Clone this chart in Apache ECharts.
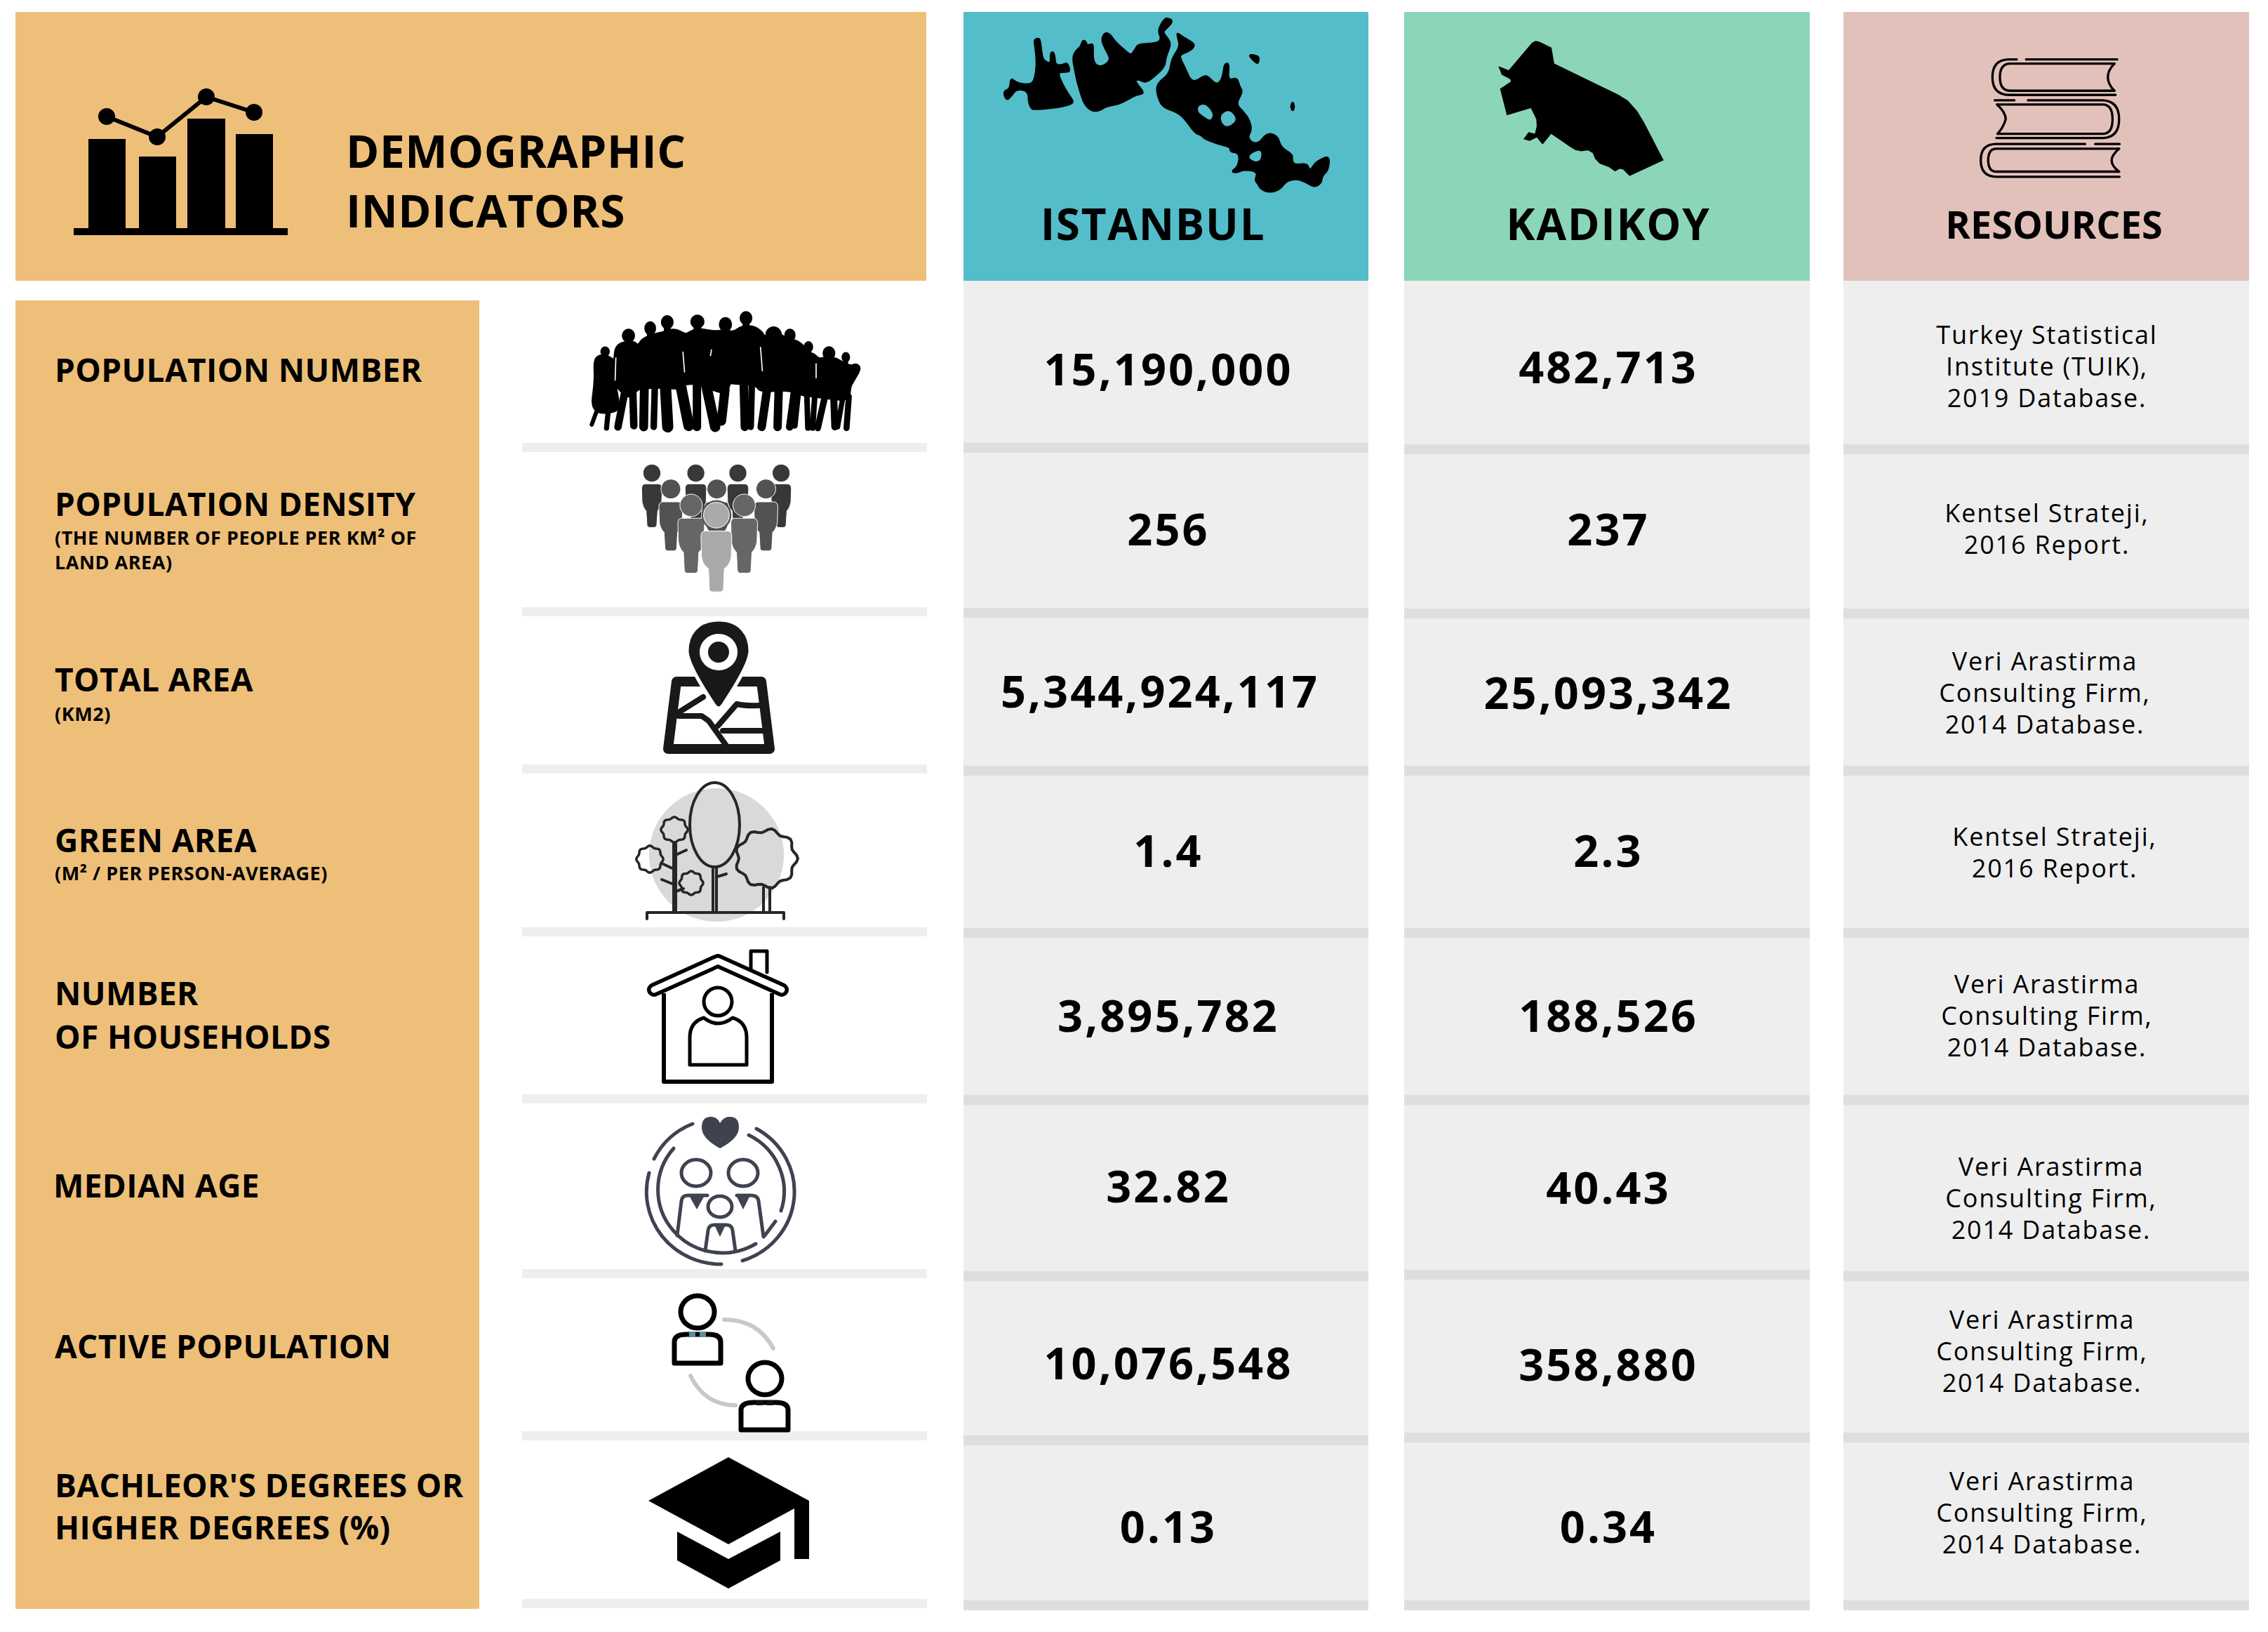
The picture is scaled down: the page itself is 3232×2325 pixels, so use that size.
<!DOCTYPE html>
<html>
<head>
<meta charset="utf-8">
<title>Demographic indicators</title>
<script src="https://cdn.jsdelivr.net/npm/echarts@6/dist/echarts.min.js"></script>
<style>
  html, body { margin: 0; background: #fff; }
  #chart { width: 3232px; height: 2325px; }
  /* the source is tracked differently per text size */
  text { letter-spacing: 0.03em; }
  text[style*="64px"] { letter-spacing: 0.009em; }
  text[style*="63px"] { letter-spacing: 0.049em; }
  text[style*="62px"] { letter-spacing: 0.027em; }
  text[style*="54px"] { letter-spacing: 0; }
  text[style*="46px"] { letter-spacing: 0.008em; }
  text[style*="36px"] { letter-spacing: 0.05em; }
  text[style*="27px"] { letter-spacing: 0.02em; }
</style>
</head>
<body>
<div id="chart"></div>
<script>
// table content
const headerTitle = ['DEMOGRAPHIC', 'INDICATORS'];
const columnTitles = ['ISTANBUL', 'KADIKOY', 'RESOURCES'];
const indicatorNames = [
    ['POPULATION NUMBER'],
    ['POPULATION DENSITY'],
    ['TOTAL AREA'],
    ['GREEN AREA'],
    ['NUMBER', 'OF HOUSEHOLDS'],
    ['MEDIAN AGE'],
    ['ACTIVE POPULATION'],
    ["BACHLEOR'S DEGREES OR", 'HIGHER DEGREES (%)']
];
const indicatorNotes = [
    [],
    ['(THE NUMBER OF PEOPLE PER KM² OF', 'LAND AREA)'],
    ['(KM2)'],
    ['(M² / PER PERSON-AVERAGE)'],
    [], [], [], []
];
const istanbulValues = [15190000, 256, 5344924117, 1.4, 3895782, 32.82, 10076548, 0.13];
const kadikoyValues = [482713, 237, 25093342, 2.3, 188526, 40.43, 358880, 0.34];
const resources = [
    ['Turkey Statistical', 'Institute (TUIK),', '2019 Database.'],
    ['Kentsel Strateji,', '2016 Report.'],
    ['Veri Arastirma', 'Consulting Firm,', '2014 Database.'],
    ['Kentsel Strateji,', '2016 Report.'],
    ['Veri Arastirma', 'Consulting Firm,', '2014 Database.'],
    ['Veri Arastirma', 'Consulting Firm,', '2014 Database.'],
    ['Veri Arastirma', 'Consulting Firm,', '2014 Database.'],
    ['Veri Arastirma', 'Consulting Firm,', '2014 Database.']
];

// layout, in page pixels
const WIDTH = 3232;
const HEIGHT = 2325;
const COLS = { istanbul: [1373, 1950], kadikoy: [2001, 2579], resources: [2627, 3205] };
const ICON_COL = [744, 1321];
const HEAD_BOTTOM = 400;
const istanbulRules = [631, 866, 1091, 1322, 1560, 1811, 2045, 2280];
const kadikoyRules = [633, 867, 1091, 1322, 1560, 1809, 2041, 2280];
const resourcesRules = [633, 867, 1091, 1322, 1560, 1811, 2041, 2280];
const iconRules = [631, 865, 1089, 1321, 1559, 1808, 2039, 2278];
const nameY = [[526], [717], [967], [1196], [1414, 1476], [1688], [1917], [2115, 2175]];
const noteY = [[], [765, 800], [1016], [1243], [], [], [], []];
const nameX = [78, 78, 78, 78, 78, 76, 78, 78];
const istanbulX = [1665, 1665, 1653, 1665, 1665, 1665, 1665, 1665];
const kadikoyX = 2292;
const istanbulY = [524, 752, 983, 1210, 1445, 1688, 1940, 2173];
const kadikoyY = [521, 752, 985, 1210, 1445, 1690, 1942, 2173];
const resourceX = [2917, 2917, 2914, 2928, 2917, 2923, 2910, 2910];
const resourceY = [476, 730, 941, 1191, 1401, 1661, 1879, 2109];

const FONT = '"Open Sans", sans-serif';
const fmt = v => v.toLocaleString('en-US', { maximumFractionDigits: 2 });

// flat lists the custom series walk through
const bands = [
    { c: [22, 1320, 17, 400], fill: '#eebf79' },
    { c: [22, 683, 428, 2292], fill: '#eebf79' },
    { c: [COLS.istanbul[0], COLS.istanbul[1], 17, HEAD_BOTTOM], fill: '#54bdca' },
    { c: [COLS.kadikoy[0], COLS.kadikoy[1], 17, HEAD_BOTTOM + 1], fill: '#8bd6b9' },
    { c: [COLS.resources[0], COLS.resources[1], 17, HEAD_BOTTOM + 1], fill: '#e3c1bb' }
];
[[COLS.istanbul, istanbulRules], [COLS.kadikoy, kadikoyRules], [COLS.resources, resourcesRules]].forEach(([col, rules]) => {
    bands.push({ c: [col[0], col[1], HEAD_BOTTOM, rules[7] + 14], fill: '#eeeeee' });
    rules.forEach(y => bands.push({ c: [col[0], col[1], y, y + 14], fill: '#dedede' }));
});
iconRules.forEach(y => bands.push({ c: [ICON_COL[0], ICON_COL[1], y, y + 13], fill: '#eeeeee' }));

const texts = [];
const addText = (text, x, y, size, weight, align) => texts.push({ text, x, y, size, weight, align: align || 'center' });
headerTitle.forEach((t, i) => addText(t, 493, [214, 299][i], 64, 700, 'left'));
addText(columnTitles[0], 1643, 318, 62, 700);
addText(columnTitles[1], 2292, 318, 62, 700);
addText(columnTitles[2], 2927, 319, 54, 700);
indicatorNames.forEach((lines, r) => {
    lines.forEach((t, i) => addText(t, nameX[r], nameY[r][i], 46, 700, 'left'));
    indicatorNotes[r].forEach((t, i) => addText(t, nameX[r], noteY[r][i], 27, 700, 'left'));
    addText(fmt(istanbulValues[r]), istanbulX[r], istanbulY[r], 63, 700);
    addText(fmt(kadikoyValues[r]), kadikoyX, kadikoyY[r], 63, 700);
    resources[r].forEach((t, i) => addText(t, resourceX[r], resourceY[r] + i * 45, 36, 400));
});

// icons
const INK = '#000';
const line = (d, w, color, extra) => ({ type: 'path', shape: { pathData: d }, style: Object.assign({ fill: null, stroke: color || INK, lineWidth: w, lineCap: 'round', lineJoin: 'round' }, extra) });
const solid = (d, color) => ({ type: 'path', shape: { pathData: d }, style: { fill: color || INK } });
const oval = (cx, cy, rx, ry, style) => ({ type: 'ellipse', shape: { cx, cy, rx, ry }, style });
// traced icons are kept in 3x crop coordinates, so they sit in a scaled group
const traced = (x, y, children) => ({ type: 'group', x, y, scaleX: 1 / 3, scaleY: 1 / 3, children });

// rounds the corners of a traced outline
function soft(points) {
    const mid = (a, b) => [(a[0] + b[0]) / 2, (a[1] + b[1]) / 2];
    const n = points.length;
    const s = mid(points[n - 1], points[0]);
    let d = `M${s[0]} ${s[1]}`;
    points.forEach((p, i) => {
        const m = mid(p, points[(i + 1) % n]);
        d += `Q${p[0]} ${p[1]} ${m[0]} ${m[1]}`;
    });
    return d + 'Z';
}

function chartIcon() {
    const els = [solid('M105 325H410V335H105Z M126 198H179V325H126Z M198 223H251V325H198Z M267 169H321V325H267Z M336 191H389V325H336Z')];
    els.push(line('M152 166L224 195L294 138L362 160', 6));
    [[152, 166], [224, 195], [294, 138], [362, 160]].forEach(p => els.push(oval(p[0], p[1], 12, 12, { fill: INK })));
    return els;
}

const crowdHeads = [[97, 198, 20, 22], [197, 130, 28, 30], [290, 98, 25, 30], [363, 72, 27, 30], [492, 70, 30, 30], [612, 82, 28, 32],
    [700, 55, 27, 30], [818, 125, 35, 35], [888, 128, 24, 28], [967, 178, 20, 25], [1055, 205, 27, 30], [1127, 222, 18, 22]];
const crowdBody = [[50, 235], [75, 212], [115, 220], [138, 240], [140, 185], [165, 160], [220, 155], [238, 175], [255, 145], [300, 125], [340, 118], [395, 100],
    [440, 125], [455, 118], [490, 100], [540, 108], [570, 112], [610, 108], [650, 115], [680, 90], [735, 90], [775, 120], [778, 145], [790, 120], [855, 122],
    [878, 160], [905, 145], [950, 175], [958, 205], [985, 205], [1012, 230], [1030, 225], [1080, 225], [1105, 240], [1150, 262], [1170, 250], [1192, 268],
    [1155, 330], [1145, 350], [1140, 410], [1000, 390], [940, 385], [880, 360], [760, 370], [745, 340], [650, 335], [630, 330], [615, 385], [500, 335],
    [435, 335], [435, 360], [340, 350], [250, 355], [235, 360], [195, 400], [155, 355], [140, 340], [155, 410], [150, 458], [36, 460], [55, 320]];
const crowdLegs = [[60, 455, 40, 510, 18], [110, 455, 103, 525, 22], [185, 350, 152, 520, 32], [215, 350, 220, 515, 32], [265, 340, 262, 520, 38], [310, 340, 305, 520, 28],
    [355, 340, 365, 520, 48], [420, 340, 455, 515, 46], [490, 320, 490, 520, 36], [525, 320, 568, 520, 44], [610, 360, 595, 495, 40], [690, 330, 695, 520, 36], [725, 330, 720, 520, 28],
    [790, 360, 767, 520, 36], [840, 360, 835, 520, 36], [910, 350, 887, 520, 32], [925, 350, 908, 515, 26], [960, 375, 965, 525, 24], [995, 375, 985, 525, 24],
    [1040, 380, 1007, 525, 28], [1075, 380, 1080, 520, 30], [1115, 390, 1092, 520, 22], [1140, 390, 1130, 525, 26]];

function crowdIcon() {
    const els = crowdHeads.map(h => oval(h[0], h[1], h[2], h[3], { fill: INK }));
    crowdHeads.forEach(h => els.push(line(`M${h[0]} ${h[1]}V${h[1] + h[3] * 2.4}`, h[2] * 1.1)));
    els.push({ type: 'path', shape: { pathData: soft(crowdBody) }, style: { fill: INK, stroke: INK, lineWidth: 10, lineJoin: 'round' } });
    crowdLegs.forEach(l => els.push(line(`M${l[0]} ${l[1]}L${l[2]} ${l[3]}`, l[4])));
    ['M430 200L437 285', 'M762 180L770 280', 'M1000 250L1000 310', 'M143 225L140 320', 'M552 190L548 215'].forEach(d => els.push(line(d, 5, '#fff')));
    return [traced(830, 435, els)];
}

function pawn(cx, headY, r, top, halfW, bottom, foot, fill) {
    const h = bottom - top;
    return [
        oval(cx, headY, r, r, { fill, stroke: '#fff', lineWidth: 3 }),
        {
            type: 'path',
            shape: { pathData: `M${cx - halfW + 18} ${top}H${cx + halfW - 18}Q${cx + halfW} ${top} ${cx + halfW} ${top + 22}L${cx + halfW - 2} ${top + h * 0.42}Q${cx + halfW - 6} ${top + h * 0.55} ${cx + foot + 4} ${top + h * 0.62}L${cx + foot} ${bottom - 10}Q${cx + foot - 2} ${bottom} ${cx + foot - 12} ${bottom}H${cx - foot + 12}Q${cx - foot + 2} ${bottom} ${cx - foot} ${bottom - 10}L${cx - foot - 4} ${top + h * 0.62}Q${cx - halfW + 6} ${top + h * 0.55} ${cx - halfW + 2} ${top + h * 0.42}L${cx - halfW} ${top + 22}Q${cx - halfW} ${top} ${cx - halfW + 18} ${top}Z` },
            style: { fill, stroke: '#fff', lineWidth: 3 }
        }
    ];
}

function groupIcon() {
    const back = '#383838', mid = '#525252', front = '#666';
    return [traced(900, 650, [].concat(
        pawn(87, 72, 38, 118, 44, 305, 21, back), pawn(275, 72, 38, 118, 46, 305, 21, back),
        pawn(455, 72, 38, 118, 46, 305, 21, back), pawn(640, 72, 38, 118, 44, 305, 21, back),
        pawn(168, 140, 42, 195, 51, 405, 25, mid), pawn(365, 140, 42, 195, 52, 405, 25, mid), pawn(575, 140, 42, 195, 51, 405, 25, mid),
        pawn(255, 210, 48, 265, 57, 500, 29, front), pawn(482, 210, 48, 265, 57, 500, 29, front),
        [oval(363, 252, 64, 64, { fill: '#555' })],
        pawn(363, 252, 55, 320, 66, 580, 30, '#aaa')
    ))];
}

function pinIcon() {
    const K = '#191919';
    return [
        { type: 'polygon', shape: { points: [[964, 971], [1085, 971], [1097, 1067], [952, 1067]] }, style: { fill: '#fff', stroke: K, lineWidth: 14, lineJoin: 'round' } },
        line('M967 1015L1002 993', 8, K),
        line('M967 1020H1000L1010 1027L1037 1065', 8, K),
        line('M1023 1034L1050 1003Q1062 1006 1082 1005', 8, K),
        line('M1030 1041H1087', 8, K),
        { type: 'path', shape: { pathData: 'M1024 883C1056 883 1069 905 1069 927C1069 945 1045 982 1030 1005Q1024 1013 1018 1005C1003 982 979 945 979 927C979 905 992 883 1024 883Z' }, style: { fill: K, stroke: '#fff', lineWidth: 5 } },
        oval(1024, 929, 27, 26, { fill: '#fff' }),
        oval(1024, 929, 15, 15, { fill: K })
    ];
}

function blob(cx, cy, rx, ry, lobes) {
    let d = '';
    const n = lobes * 6;
    for (let i = 0; i <= n; i++) {
        const a = i / n * Math.PI * 2;
        const k = 1 + 0.07 * Math.cos(a * lobes);
        d += `${i ? 'L' : 'M'}${cx + rx * k * Math.cos(a)} ${cy + ry * k * Math.sin(a)}`;
    }
    return d + 'Z';
}

function treesIcon() {
    const K = '#262626';
    return [
        oval(1021, 1218, 96, 95, { fill: '#d9d9d9' }),
        line('M922 1309V1300H1117V1309', 4, K),
        line('M960 1202V1300M963 1202V1300M963 1218L978 1211M958 1237L943 1230M958 1259L943 1253M963 1270L974 1266', 4, K),
        line('M1016 1235V1300M1021 1235V1300M1022 1249L1035 1245', 4, K),
        line('M1088 1264V1300M1097 1264V1300', 4, K),
        line(blob(961, 1182, 18, 17, 8), 3.5, K),
        line(blob(926, 1224, 18, 18, 8), 3.5, K),
        line(blob(985, 1258, 16, 16, 8), 3.5, K),
        oval(1018.5, 1175, 35.5, 60, { fill: null, stroke: K, lineWidth: 4 }),
        line(blob(1092, 1223, 42, 40, 9), 4, K)
    ];
}

function houseIcon() {
    return [
        line('M1070 1381V1355H1093V1385', 5),
        line('M946 1415V1541H1100V1415', 6, INK, { lineCap: 'butt' }),
        line('M932 1410L1023 1369L1114 1410', 20),
        line('M932 1410L1023 1369L1114 1410', 9, '#fff'),
        oval(1023, 1427, 20, 20, { fill: null, stroke: INK, lineWidth: 5 }),
        line('M983 1517V1478Q983 1456 1003 1450Q1023 1466 1044 1450Q1064 1456 1064 1478V1517Z', 5)
    ];
}

function familyIcon() {
    const K = '#3f4350';
    return [
        solid('M1026 1636Q1000 1622 1000 1606Q1000 1591 1013 1591Q1022 1591 1026 1600Q1031 1591 1040 1591Q1053 1591 1053 1606Q1053 1622 1026 1636Z', K),
        line('M987 1601A106 103 0 0 0 932 1651', 5, K),
        line('M925 1671A106 103 0 0 0 1028 1801', 5, K),
        line('M1058 1796A106 103 0 0 0 1078 1608', 5, K),
        line('M960 1636A92 90 0 0 0 1077 1772', 5, K),
        line('M1067 1617A92 90 0 0 1 1113 1725', 5, K),
        line('M1105 1740L1090 1760', 5, K),
        oval(992, 1671, 21, 19, { fill: null, stroke: K, lineWidth: 5 }),
        oval(1059, 1671, 21, 19, { fill: null, stroke: K, lineWidth: 5 }),
        oval(1026, 1719, 17, 15, { fill: null, stroke: K, lineWidth: 5 }),
        line('M965 1760L971 1711Q972 1703 980 1703H1008', 5, K),
        line('M1050 1703H1070Q1080 1703 1081 1711L1088 1762', 5, K),
        line('M1005 1782L1009 1753Q1010 1745 1018 1745H1035Q1043 1745 1044 1753L1048 1782', 5, K),
        solid('M983 1705L993 1723L1003 1705Z', K),
        solid('M1050 1705L1059 1723L1068 1705Z', K),
        solid('M1018 1745L1026 1762L1034 1745Z', K)
    ];
}

function bust(cx, headY, left, right, top, bottom, neck) {
    return [
        oval(cx, headY, 24, 23, { fill: null, stroke: INK, lineWidth: 7 }),
        line(`M${left + 3} ${bottom - 3}V${top + 14}Q${left + 3} ${top + 3} ${cx - 16} ${top + 3}H${cx + 16}Q${right - 3} ${top + 3} ${right - 3} ${top + 14}V${bottom - 3}Z`, 7),
        solid(`M${cx - 12} ${top}h9v7h-9Z M${cx + 3} ${top}h9v7h-9Z`, neck)
    ];
}

function activeIcon() {
    return [].concat(
        bust(994, 1869, 958, 1030, 1898, 1945, '#5a8fa0'),
        bust(1090, 1964, 1053, 1126, 1995, 2040, '#111'),
        [line('M1032 1880Q1080 1880 1102 1921', 6, '#c8c8c8'), line('M984 1960Q1005 2002 1048 2002', 6, '#c8c8c8')]
    );
}

function capIcon() {
    return [
        solid('M924 2138L1038 2076L1153 2138V2221H1132V2149L1038 2200Z'),
        solid('M965 2182L1038 2221L1112 2182V2223L1038 2263L965 2223Z')
    ];
}

const bookStrokes = [
    'M222 44H190Q118 44 118 120Q118 195 190 196H645', 'M262 44H652',
    'M640 62H195Q150 62 150 120Q150 178 195 178H640', 'M640 62Q612 90 612 120Q612 150 640 178',
    'M128 219H212', 'M270 219H590Q660 222 660 300Q660 378 590 380H135',
    'M138 237H590Q632 237 632 300Q632 362 590 362H140', 'M138 237Q175 270 175 300Q165 335 140 362',
    'M515 406H135Q68 406 68 475Q68 545 135 546H662', 'M558 406H662',
    'M660 426H135Q100 426 100 475Q100 524 135 524H660', 'M660 426Q628 455 628 475Q628 500 660 524'
];

function booksIcon() {
    return [traced(2800, 70, bookStrokes.map(d => line(d, 10)))];
}

const istanbulParts = [
    [[160, 108], [185, 102], [190, 130], [197, 190], [215, 207], [232, 210], [230, 170], [240, 160], [250, 175], [252, 217], [280, 218], [305, 207], [316, 248], [290, 248], [262, 250], [285, 305], [310, 345], [340, 390], [160, 412], [145, 400], [137, 375], [135, 328], [85, 322], [65, 350], [42, 372], [28, 330], [58, 320], [60, 272], [85, 293], [120, 300], [152, 298], [165, 270], [172, 210], [165, 140]],
    [[470, 78], [490, 90], [510, 120], [545, 150], [575, 177], [590, 155], [605, 130], [640, 127], [690, 122], [705, 105], [690, 70], [715, 25], [730, 15], [758, 30], [725, 65], [712, 78], [735, 105], [747, 130], [725, 185], [720, 225], [685, 260], [640, 296], [610, 280], [590, 285], [637, 340], [600, 345], [565, 365], [520, 388], [470, 395], [440, 415], [405, 415], [375, 385], [360, 340], [345, 290], [335, 240], [325, 185], [340, 155], [360, 140], [368, 112], [382, 115], [388, 135], [410, 125], [415, 140], [413, 190], [425, 218], [450, 225], [480, 205], [485, 185], [465, 150], [450, 115], [455, 90]],
    [[772, 78], [800, 100], [852, 127], [835, 155], [790, 172], [785, 185], [810, 235], [830, 282], [855, 287], [885, 265], [905, 265], [935, 297], [955, 295], [970, 260], [975, 212], [997, 210], [990, 285], [1030, 270], [1040, 310], [1055, 330], [1025, 385], [1055, 415], [1085, 455], [1092, 500], [1075, 525], [1095, 552], [1125, 550], [1150, 517], [1175, 510], [1205, 525], [1217, 570], [1268, 600], [1265, 625], [1275, 645], [1330, 638], [1340, 670], [1355, 650], [1370, 630], [1427, 603], [1420, 670], [1395, 690], [1390, 725], [1360, 742], [1325, 720], [1285, 705], [1240, 715], [1215, 750], [1170, 765], [1130, 750], [1118, 725], [1105, 712], [1118, 675], [1060, 665], [1030, 680], [1003, 675], [1035, 650], [1040, 595], [1000, 590], [1000, 570], [960, 560], [890, 535], [875, 517], [850, 512], [800, 440], [760, 415], [715, 400], [695, 370], [683, 320], [695, 290], [740, 255], [750, 190], [785, 140], [775, 100]],
    [[1078, 172], [1120, 178], [1125, 195], [1118, 215], [1095, 195]],
    [[1268, 373], [1276, 395], [1268, 418], [1258, 395]]
];
const istanbulHoles = [
    [[885, 385], [905, 395], [930, 430], [915, 457], [890, 440], [862, 420], [862, 395]],
    [[985, 412], [1010, 420], [1030, 455], [990, 485], [965, 470], [957, 435]],
    [[1135, 575], [1132, 630], [1095, 630], [1075, 605]]
];
const kadikoyShape = [[220, 62], [235, 55], [250, 58], [303, 83], [315, 152], [590, 285], [630, 310], [670, 355], [700, 405], [783, 565], [637, 633], [610, 605], [595, 602], [575, 613], [550, 595], [510, 580], [490, 560], [480, 535], [460, 523], [430, 527], [405, 522], [385, 510], [302, 453], [265, 498], [240, 468], [210, 483], [183, 475], [205, 445], [232, 452], [240, 420], [238, 390], [215, 342], [112, 373], [83, 260], [130, 228], [125, 218], [90, 200], [76, 163], [120, 180]];

function istanbulIcon() {
    const black = istanbulParts.map(p => ({ type: 'path', shape: { pathData: soft(p) }, style: { fill: INK, stroke: INK, lineWidth: 6, lineJoin: 'round' } }));
    const teal = istanbulHoles.map(p => solid(soft(p), '#54bdca'));
    return [traced(1420, 20, black.concat(teal))];
}

function kadikoyIcon() {
    return [traced(2110, 40, [{ type: 'polygon', shape: { points: kadikoyShape }, style: { fill: INK } }])];
}

const icons = [].concat(chartIcon(), crowdIcon(), groupIcon(), pinIcon(), treesIcon(), houseIcon(), familyIcon(), activeIcon(), capIcon(), booksIcon(), istanbulIcon(), kadikoyIcon());

const chart = echarts.init(document.getElementById('chart'), null, { renderer: 'svg', width: WIDTH, height: HEIGHT });

chart.setOption({
    animation: false,
    backgroundColor: '#fff',
    grid: { left: 0, right: 0, top: 0, bottom: 0 },
    xAxis: { type: 'value', min: 0, max: WIDTH, show: false },
    yAxis: { type: 'value', min: 0, max: HEIGHT, inverse: true, show: false },
    series: [
        {
            type: 'custom',
            silent: true,
            data: bands.map(b => b.c),
            renderItem(params, api) {
                const a = api.coord([api.value(0), api.value(2)]);
                const b = api.coord([api.value(1), api.value(3)]);
                return {
                    type: 'rect',
                    shape: { x: a[0], y: a[1], width: b[0] - a[0], height: b[1] - a[1] },
                    style: { fill: bands[params.dataIndex].fill }
                };
            }
        },
        {
            type: 'custom',
            silent: true,
            z: 4,
            data: [[0, 0]],
            renderItem() {
                return { type: 'group', children: icons };
            }
        },
        {
            type: 'custom',
            silent: true,
            z: 5,
            data: texts.map(t => [t.x, t.y]),
            renderItem(params, api) {
                const t = texts[params.dataIndex];
                const p = api.coord([api.value(0), api.value(1)]);
                return {
                    type: 'text',
                    x: p[0],
                    y: p[1],
                    style: {
                        text: t.text,
                        fill: '#000',
                        fontFamily: FONT,
                        fontSize: t.size,
                        fontWeight: t.weight,
                        align: t.align,
                        verticalAlign: 'middle'
                    }
                };
            }
        }
    ]
});
</script>
</body>
</html>
